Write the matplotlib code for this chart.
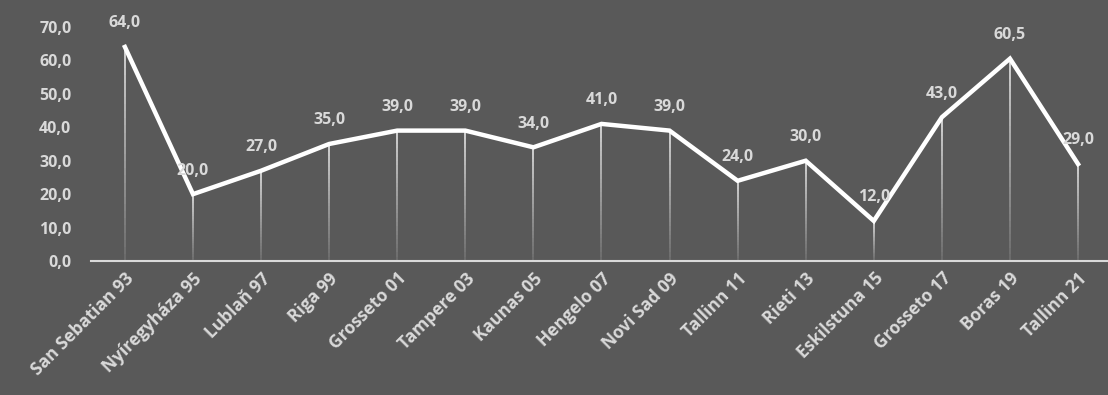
import numpy as np
import matplotlib.pyplot as plt
from matplotlib.collections import LineCollection

# data
cities = ["San Sebatian 93", "Nyíregyháza 95", "Lublaň 97", "Riga 99",
          "Grosseto 01", "Tampere 03", "Kaunas 05", "Hengelo 07",
          "Novi Sad 09", "Tallinn 11", "Rieti 13", "Eskilstuna 15",
          "Grosseto 17", "Boras 19", "Tallinn 21"]
values = [64.0, 20.0, 27.0, 35.0, 39.0, 39.0, 34.0, 41.0,
          39.0, 24.0, 30.0, 12.0, 43.0, 60.5, 29.0]
yticks = [0, 10, 20, 30, 40, 50, 60, 70]

BG = '#595959'
TXT = '#d9d9d9'

plt.rcParams['font.family'] = ['Open Sans', 'DejaVu Sans']

fig = plt.figure(figsize=(11.08, 3.95), dpi=100, facecolor=BG)
ax = fig.add_axes([0.082, 0.339, 0.918, 0.593], facecolor=BG)

x = np.arange(len(values))

# drop lines fading toward the axis
segs, cols = [], []
n = 30
for xi, v in zip(x, values):
    ys = np.linspace(0, v, n + 1)
    for k in range(n):
        segs.append([(xi, ys[k]), (xi, ys[k + 1])])
        cols.append((1, 1, 1, 0.15 + 0.8 * (k / n)))
ax.add_collection(LineCollection(segs, colors=cols, linewidths=1.1, zorder=1))

ax.plot(x, values, color='white', lw=3.2, solid_joinstyle='miter', zorder=3)

for xi, v in zip(x, values):
    ax.annotate(f"{v:.1f}".replace('.', ','), (xi, v), xytext=(0, 17),
                textcoords='offset points', ha='center', va='center',
                fontsize=11.5, fontweight='bold', color=TXT, zorder=4)

ax.set_xlim(-0.5, 14.44)
ax.set_ylim(0, 70)
ax.set_yticks(yticks)
ax.set_yticklabels([f"{t:.1f}".replace('.', ',') for t in yticks])
ax.set_xticks(x)
ax.set_xticklabels(cities, rotation=45, ha='right', rotation_mode='anchor')

for s in ['top', 'right', 'left']:
    ax.spines[s].set_visible(False)
ax.spines['bottom'].set_color(TXT)
ax.spines['bottom'].set_linewidth(1.5)
ax.tick_params(axis='both', length=0, colors=TXT)
ax.tick_params(axis='y', pad=14, labelsize=11.5)
ax.tick_params(axis='x', pad=6, labelsize=12.5)
for lab in ax.get_xticklabels() + ax.get_yticklabels():
    lab.set_fontweight('bold')

fig.savefig('out.png', dpi=100, facecolor=BG)
